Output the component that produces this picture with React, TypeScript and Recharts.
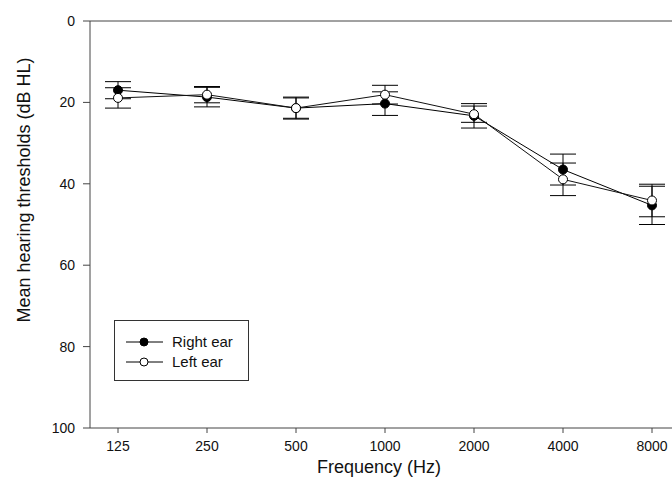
import React from 'react'
import { LineChart, Line, XAxis, YAxis, ErrorBar, Legend, ReferenceLine, Label } from 'recharts'

const frequencies = ['125', '250', '500', '1000', '2000', '4000', '8000']
const rightEar = [17.0, 18.7, 21.4, 20.3, 23.3, 36.5, 45.3]
const rightEarErr = [2.1, 2.4, 2.5, 2.9, 3.0, 3.8, 4.7]
const leftEar = [18.9, 18.1, 21.4, 18.1, 22.9, 38.9, 44.1]
const leftEarErr = [2.5, 2.0, 2.7, 2.3, 2.0, 4.0, 4.0]
const yTicks = [0, 20, 40, 60, 80, 100]

const data = frequencies.map((f, i) => ({
  freq: f,
  right: rightEar[i],
  rightErr: rightEarErr[i],
  left: leftEar[i],
  leftErr: leftEarErr[i],
}))

const font = '"Liberation Sans", Arial, sans-serif'
const axisColor = '#444'

const LegendBox = ({ payload }: any) => {
  const items = (payload || []).slice().sort((a: any) => (a.dataKey === 'right' ? -1 : 1))
  return (
    <div style={{ width: 135, height: 61, border: '1px solid #333', boxSizing: 'border-box', background: '#fff' }}>
      <svg width={133} height={59}>
        {items.map((item: any, i: number) => {
          const y = 21 + i * 20
          const filled = item.dataKey === 'right'
          return (
            <g key={item.dataKey}>
              <line x1={11} x2={48} y1={y} y2={y} stroke="#000" strokeWidth={1} />
              <circle cx={29} cy={y} r={4} fill={filled ? '#000' : '#fff'} stroke="#000" strokeWidth={1} />
              <text x={57} y={y + 5} fontSize={15} fontFamily={font} fill="#111">
                {item.value}
              </text>
            </g>
          )
        })}
      </svg>
    </div>
  )
}

export default function App() {
  return (
    <div style={{ position: 'absolute', left: 0, top: 0, width: 672, height: 477, overflow: 'hidden', background: '#fff' }}>
      <LineChart width={682} height={477} data={data} margin={{ top: 21, right: 2, bottom: 0, left: 0 }}>
        <XAxis
          dataKey="freq"
          scale="point"
          padding={{ left: 28, right: 28 }}
          height={49}
          tickSize={5}
          tickMargin={8}
          stroke={axisColor}
          tick={{ fill: '#111', fontSize: 14, fontFamily: font }}
        >
          <Label
            content={() => (
              <text x={379} y={473} textAnchor="middle" fontSize={18} fontFamily={font} fill="#111">
                Frequency (Hz)
              </text>
            )}
          />
        </XAxis>
        <YAxis
          type="number"
          domain={[0, 100]}
          ticks={yTicks}
          reversed
          width={90}
          tickSize={7}
          tickMargin={8}
          stroke={axisColor}
          tick={{ fill: '#111', fontSize: 14, fontFamily: font }}
        >
          <Label
            content={() => (
              <text
                x={24}
                y={190}
                transform="rotate(-90 24 190)"
                textAnchor="middle"
                dominantBaseline="central"
                fontSize={18}
                fontFamily={font}
                fill="#111"
              >
                Mean hearing thresholds (dB HL)
              </text>
            )}
          />
        </YAxis>
        <ReferenceLine y={0} stroke={axisColor} strokeWidth={1} />
        <Legend
          layout="horizontal"
          verticalAlign="middle"
          align="center"
          content={<LegendBox />}
          wrapperStyle={{ left: 114, top: 320, width: 135, height: 61 }}
        />
        <Line
          dataKey="right"
          name="Right ear"
          stroke="#000"
          strokeWidth={1}
          dot={{ r: 4.5, fill: '#000', stroke: '#000', strokeWidth: 1 }}
          isAnimationActive={false}
        >
          <ErrorBar dataKey="rightErr" width={13} stroke="#000" strokeWidth={1} direction="y" isAnimationActive={false} />
        </Line>
        <Line
          dataKey="left"
          name="Left ear"
          stroke="#111"
          strokeWidth={1}
          dot={{ r: 4.5, fill: '#fff', stroke: '#000', strokeWidth: 1 }}
          isAnimationActive={false}
        >
          <ErrorBar dataKey="leftErr" width={13} stroke="#000" strokeWidth={1} direction="y" isAnimationActive={false} />
        </Line>
      </LineChart>
    </div>
  )
}
